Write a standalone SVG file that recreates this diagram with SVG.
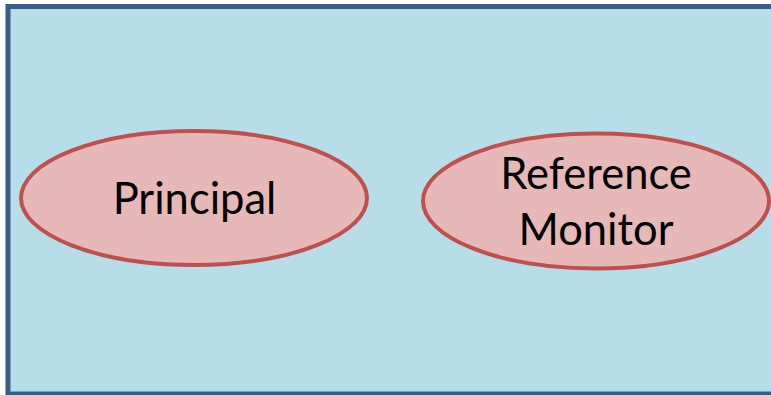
<svg xmlns="http://www.w3.org/2000/svg" width="771" height="395" viewBox="0 0 771 395">
  <style>
    .frame { fill: #B7DDE8; stroke: #385D8A; stroke-width: 5; }
    .node ellipse { fill: #E6B9B8; stroke: #C0504D; stroke-width: 4; }
    .node text { font-family: Lato, "Open Sans", sans-serif; font-size: 43.5px; fill: #000; text-anchor: middle; }
  </style>
  <rect class="frame" x="8" y="6.5" width="800" height="387.5"/>
  <g id="principal" class="node">
    <ellipse cx="194" cy="198" rx="173" ry="67"/>
    <text x="194.5" y="214">Principal</text>
  </g>
  <g id="reference-monitor" class="node">
    <ellipse cx="596" cy="201" rx="173" ry="67.5"/>
    <text x="596" y="189">Reference</text>
    <text x="596" y="245">Monitor</text>
  </g>
  <g id="connectors"/>
</svg>
